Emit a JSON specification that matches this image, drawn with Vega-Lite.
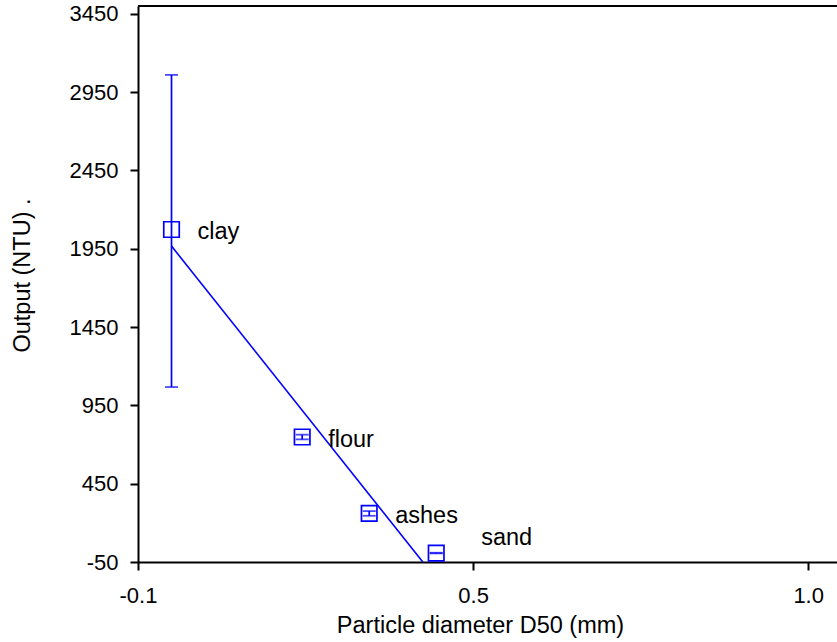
{
  "$schema": "https://vega.github.io/schema/vega-lite/v6.json",
  "width": 699,
  "height": 556,
  "autosize": {"type": "none"},
  "padding": {"left": 138, "top": 6, "right": 0, "bottom": 80},
  "background": "white",
  "config": {
    "view": {"stroke": null},
    "font": "Liberation Sans",
    "axis": {
      "grid": false,
      "domainColor": "black",
      "domainWidth": 2,
      "tickColor": "black",
      "tickWidth": 2,
      "tickSize": 8,
      "labelColor": "black",
      "labelFont": "Liberation Sans",
      "labelFontSize": 22,
      "labelFlush": false,
      "labelOverlap": false,
      "titleColor": "black",
      "titleFont": "Liberation Sans",
      "titleFontSize": 23.5,
      "titleFontWeight": "normal"
    }
  },
  "datasets": {
    "pts": [
      {"material": "clay", "d50": 0.05, "ntu": 2073, "lo": 1067, "hi": 3060},
      {"material": "flour", "d50": 0.245, "ntu": 748, "lo": 733, "hi": 763},
      {"material": "ashes", "d50": 0.345, "ntu": 260, "lo": 245, "hi": 275},
      {"material": "sand", "d50": 0.445, "ntu": 7, "lo": 5, "hi": 9}
    ],
    "fit": [
      {"d50": 0.05, "ntu": 1967},
      {"d50": 0.425, "ntu": -50}
    ],
    "frame": [
      {"ntu": 3500}
    ]
  },
  "layer": [
    {
      "data": {"name": "fit"},
      "mark": {"type": "line", "color": "#0000ff", "strokeWidth": 1.6},
      "encoding": {
        "x": {"field": "d50", "type": "quantitative",
          "scale": {"domain": [0, 1.043], "nice": false, "zero": false},
          "axis": {"title": "Particle diameter D50 (mm)", "values": [0, 0.5, 1.0],
            "labelExpr": "datum.value == 0 ? '-0.1' : format(datum.value, '.1f')",
            "labelPadding": 15, "titleX": 342, "titleY": 70, "titleBaseline": "alphabetic", "titleAlign": "center"}},
        "y": {"field": "ntu", "type": "quantitative",
          "scale": {"domain": [-50, 3500], "nice": false, "zero": false},
          "axis": {"title": "Output (NTU) .", "values": [-50, 450, 950, 1450, 1950, 2450, 2950, 3450],
            "labelExpr": "datum.value < 0 ? '-' + toString(-datum.value) : toString(datum.value)",
            "labelPadding": 12, "titleX": -116, "titleY": 269, "titleBaseline": "middle", "titleAlign": "center"}}
      }
    },
    {
      "data": {"name": "frame"},
      "mark": {"type": "rule", "color": "black", "strokeWidth": 2},
      "encoding": {"y": {"field": "ntu", "type": "quantitative"}}
    },
    {
      "data": {"name": "pts"},
      "mark": {"type": "rule", "color": "#0000ff", "strokeWidth": 1.7},
      "encoding": {
        "x": {"field": "d50", "type": "quantitative"},
        "y": {"field": "lo", "type": "quantitative"},
        "y2": {"field": "hi"}
      }
    },
    {
      "data": {"name": "pts"},
      "mark": {"type": "tick", "color": "#0000ff", "orient": "horizontal", "size": 13, "thickness": 1.8},
      "encoding": {
        "x": {"field": "d50", "type": "quantitative"},
        "y": {"field": "lo", "type": "quantitative"}
      }
    },
    {
      "data": {"name": "pts"},
      "mark": {"type": "tick", "color": "#0000ff", "orient": "horizontal", "size": 13, "thickness": 1.8},
      "encoding": {
        "x": {"field": "d50", "type": "quantitative"},
        "y": {"field": "hi", "type": "quantitative"}
      }
    },
    {
      "data": {"name": "pts"},
      "mark": {"type": "point", "shape": "square", "filled": false, "color": "#0000ff", "strokeWidth": 1.7, "size": 240, "opacity": 1},
      "encoding": {
        "x": {"field": "d50", "type": "quantitative"},
        "y": {"field": "ntu", "type": "quantitative"}
      }
    },
    {
      "data": {"name": "pts"},
      "transform": [{"filter": "datum.material != 'sand'"}],
      "mark": {"type": "text", "align": "left", "baseline": "alphabetic", "dx": 26, "dy": 10, "fontSize": 23.5, "color": "black", "font": "Liberation Sans"},
      "encoding": {
        "x": {"field": "d50", "type": "quantitative"},
        "y": {"field": "ntu", "type": "quantitative"},
        "text": {"field": "material"}
      }
    },
    {
      "data": {"name": "pts"},
      "transform": [{"filter": "datum.material == 'sand'"}],
      "mark": {"type": "text", "align": "left", "baseline": "alphabetic", "dx": 45, "dy": -8, "fontSize": 23.5, "color": "black", "font": "Liberation Sans"},
      "encoding": {
        "x": {"field": "d50", "type": "quantitative"},
        "y": {"field": "ntu", "type": "quantitative"},
        "text": {"field": "material"}
      }
    }
  ]
}
